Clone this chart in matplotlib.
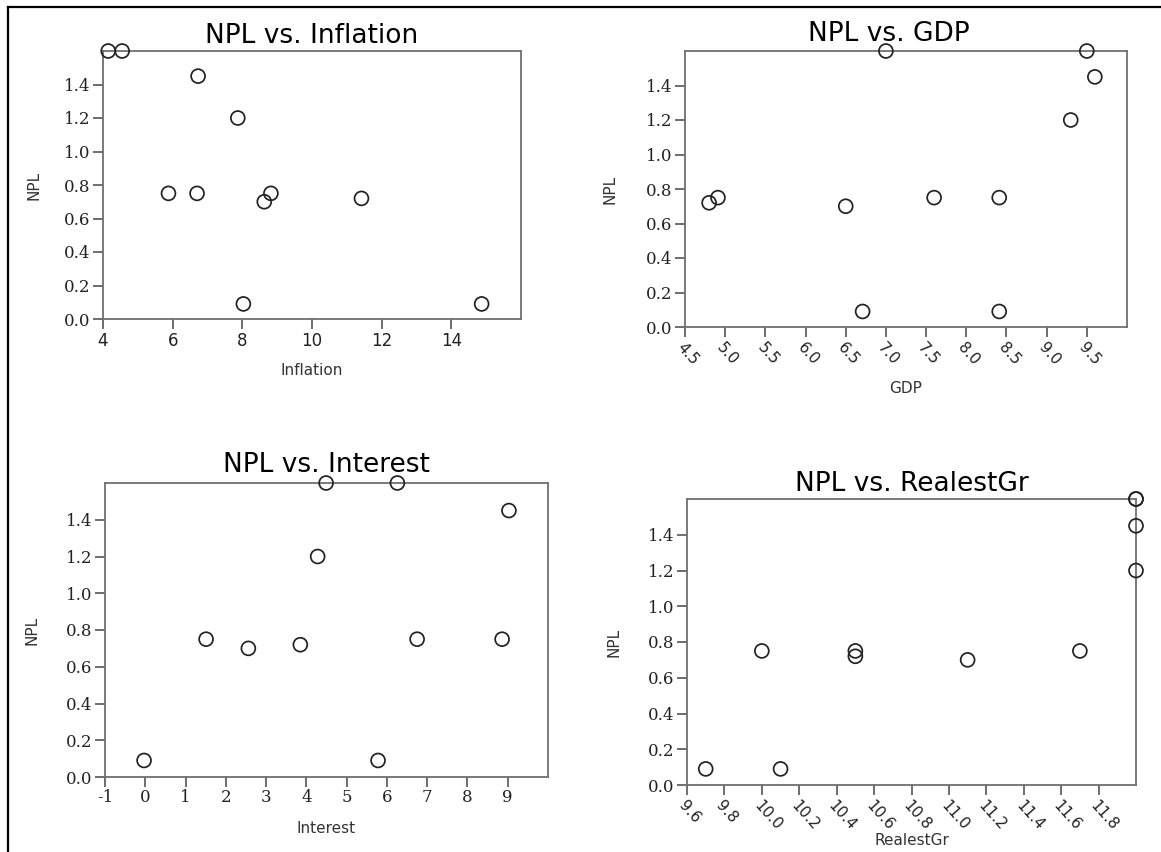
import numpy as np
import matplotlib
matplotlib.use("Agg")
import matplotlib.pyplot as plt
from matplotlib.lines import Line2D

# NPL against each driver
inflation = [4.15, 4.55, 6.73, 7.87, 5.88, 6.70, 8.63, 8.82, 11.42, 8.03, 14.87]
npl_inflation = [1.6, 1.6, 1.45, 1.2, 0.75, 0.75, 0.70, 0.75, 0.72, 0.09, 0.09]

gdp = [4.80, 4.91, 6.50, 6.71, 7.00, 7.60, 8.41, 8.41, 9.30, 9.50, 9.60]
npl_gdp = [0.72, 0.75, 0.70, 0.09, 1.6, 0.75, 0.75, 0.09, 1.2, 1.6, 1.45]

interest = [-0.03, 1.51, 2.56, 3.85, 4.28, 4.49, 5.78, 6.26, 6.75, 8.86, 9.03]
npl_interest = [0.09, 0.75, 0.70, 0.72, 1.2, 1.6, 0.09, 1.6, 0.75, 0.75, 1.45]

realest = [9.70, 10.00, 10.10, 10.50, 10.50, 11.10, 11.70, 12.0, 12.0, 12.0, 12.0]
npl_realest = [0.09, 0.75, 0.09, 0.75, 0.72, 0.70, 0.75, 1.6, 1.6, 1.45, 1.2]

npl_ticks = [0.0, 0.2, 0.4, 0.6, 0.8, 1.0, 1.2, 1.4]
inflation_ticks = [4, 6, 8, 10, 12, 14]
gdp_ticks = [4.5, 5.0, 5.5, 6.0, 6.5, 7.0, 7.5, 8.0, 8.5, 9.0, 9.5]
interest_ticks = [-1, 0, 1, 2, 3, 4, 5, 6, 7, 8, 9]
realest_ticks = [9.6, 9.8, 10.0, 10.2, 10.4, 10.6, 10.8, 11.0, 11.2, 11.4, 11.6, 11.8]

W, H = 1161, 852


def px_rect(left, top, right, bottom):
    # pixel box -> figure fraction rect
    return [left / W, 1 - bottom / H, (right - left) / W, (bottom - top) / H]


def scatter_panel(fig, rect, x, y, xlim, xticks, title, xlabel, rotate=False,
                  xfont="DejaVu Sans", xlabel_drop=50, ylabel_off=64,
                  title_pad=7, title_x=0.5):
    ax = fig.add_axes(rect)
    ax.scatter(x, y, s=100, facecolors="none", edgecolors="#222222",
               linewidths=1.25, clip_on=False, zorder=3)
    ax.set_xlim(*xlim)
    ax.set_ylim(0, 1.6)
    ax.set_yticks(npl_ticks)
    ax.set_yticklabels([f"{t:.1f}" for t in npl_ticks],
                       family="DejaVu Serif", fontsize=12, color="#222222")
    ax.set_xticks(xticks)
    if rotate:
        ax.set_xticklabels([f"{t:.1f}" for t in xticks], family=xfont,
                           fontsize=11, rotation=-48, ha="left", va="top",
                           rotation_mode="anchor", color="#222222")
    else:
        ax.set_xticklabels([str(t) for t in xticks], family=xfont,
                           fontsize=12, color="#222222")
    for s in ax.spines.values():
        s.set_color("#707070")
        s.set_linewidth(1.3)
    ax.tick_params(axis="both", direction="out", length=7, width=1.2,
                   color="#555555", pad=2)
    ax.set_title(title, fontsize=19, family="DejaVu Sans", pad=title_pad)
    ax.title.set_x(title_x)
    bbox = ax.get_position()
    hpx = bbox.height * H
    wpx = bbox.width * W
    ax.set_xlabel(xlabel, fontsize=11, family="DejaVu Sans", color="#333333")
    ax.xaxis.set_label_coords(0.5, -xlabel_drop / hpx)
    ax.set_ylabel("NPL", fontsize=11, family="DejaVu Sans", color="#333333")
    ax.yaxis.set_label_coords(-ylabel_off / wpx, 0.5)
    return ax


fig = plt.figure(figsize=(W / 100, H / 100), dpi=100)

scatter_panel(fig, px_rect(103, 51, 521, 319), inflation, npl_inflation,
              (4, 16), inflation_ticks, "NPL vs. Inflation", "Inflation",
              xlabel_drop=44, ylabel_off=62, title_pad=6)
scatter_panel(fig, px_rect(685, 51, 1127, 327), gdp, npl_gdp,
              (4.5, 10.0), gdp_ticks, "NPL vs. GDP", "GDP", rotate=True,
              xlabel_drop=54, ylabel_off=68, title_pad=7, title_x=0.46)
scatter_panel(fig, px_rect(105, 483, 548, 777), interest, npl_interest,
              (-1, 10), interest_ticks, "NPL vs. Interest", "Interest",
              xfont="DejaVu Serif", xlabel_drop=44, ylabel_off=66, title_pad=8)
scatter_panel(fig, px_rect(687, 499, 1136, 785), realest, npl_realest,
              (9.6, 12.0), realest_ticks, "NPL vs. RealestGr", "RealestGr",
              rotate=True, xlabel_drop=48, ylabel_off=66, title_pad=6)

# frame lines at the top and left of the page
fig.add_artist(Line2D([8 / W, 1], [1 - 7 / H, 1 - 7 / H], color="black", linewidth=1.6))
fig.add_artist(Line2D([8 / W, 8 / W], [0, 1 - 7 / H], color="black", linewidth=1.6))

fig.savefig("out.png", dpi=100)
